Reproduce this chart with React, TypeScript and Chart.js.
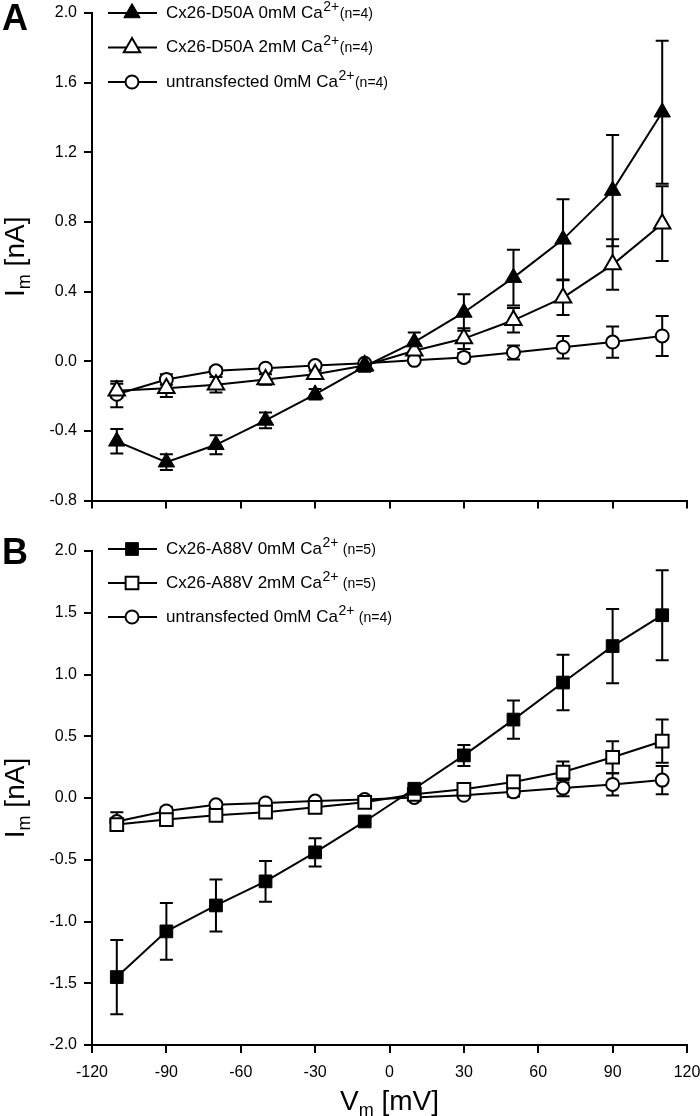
import React, { useEffect, useRef } from 'react';
import { Chart, registerables } from 'chart.js';

Chart.register(...registerables);

// ---------- data ----------
const voltages = [-110, -90, -70, -50, -30, -10, 10, 30, 50, 70, 90, 110];

// Panel A
const d50a0mM = [-0.46, -0.58, -0.48, -0.34, -0.19, -0.03, 0.11, 0.28, 0.48, 0.70, 0.98, 1.43];
const d50a0mMErr = [0.07, 0.045, 0.055, 0.045, 0.03, 0.03, 0.055, 0.105, 0.16, 0.23, 0.32, 0.41];
const d50a2mM = [-0.17, -0.155, -0.135, -0.105, -0.075, -0.025, 0.06, 0.13, 0.235, 0.365, 0.555, 0.79];
const d50a2mMErr = [0.04, 0.05, 0.045, 0.03, 0.02, 0.02, 0.03, 0.06, 0.07, 0.1, 0.145, 0.215];

// untransfected (both panels)
const untransfected = [-0.19, -0.105, -0.055, -0.04, -0.025, -0.012, 0.005, 0.022, 0.05, 0.08, 0.11, 0.145];
const untransfectedErr = [0.075, 0.03, 0.02, 0.015, 0.015, 0.015, 0.015, 0.025, 0.04, 0.065, 0.09, 0.115];

// Panel B
const a88v0mM = [-1.45, -1.08, -0.87, -0.675, -0.44, -0.19, 0.075, 0.345, 0.635, 0.935, 1.23, 1.48];
const a88v0mMErr = [0.3, 0.23, 0.21, 0.165, 0.115, 0.02, 0.03, 0.085, 0.155, 0.225, 0.3, 0.365];
const a88v2mM = [-0.215, -0.175, -0.14, -0.115, -0.075, -0.035, 0.03, 0.07, 0.13, 0.21, 0.33, 0.46];
const a88v2mMErr = [0.03, 0.03, 0.025, 0.02, 0.02, 0.02, 0.02, 0.03, 0.05, 0.085, 0.13, 0.175];

// ticks
const xTicks = [-120, -90, -60, -30, 0, 30, 60, 90, 120];
const yTicksA = [-0.8, -0.4, 0.0, 0.4, 0.8, 1.2, 1.6, 2.0];
const yTicksB = [-2.0, -1.5, -1.0, -0.5, 0.0, 0.5, 1.0, 1.5, 2.0];

const legendA = [
  { style: 'triangle', filled: true, main: 'Cx26-D50A 0mM Ca', sup: '2+', tail: '(n=4)' },
  { style: 'triangle', filled: false, main: 'Cx26-D50A 2mM Ca', sup: '2+', tail: '(n=4)' },
  { style: 'circle', filled: false, main: 'untransfected 0mM Ca', sup: '2+', tail: '(n=4)' },
];
const legendB = [
  { style: 'rect', filled: true, main: 'Cx26-A88V 0mM Ca', sup: '2+', tail: ' (n=5)' },
  { style: 'rect', filled: false, main: 'Cx26-A88V 2mM Ca', sup: '2+', tail: ' (n=5)' },
  { style: 'circle', filled: false, main: 'untransfected 0mM Ca', sup: '2+', tail: ' (n=4)' },
];

const FONT = '"Liberation Sans", Arial, Helvetica, sans-serif';

const MARKER = {
  triangle: { pointStyle: 'triangle', radius: 9.5 },
  circle: { pointStyle: 'circle', radius: 6.5 },
  rect: { pointStyle: 'rect', radius: 9 },
};

function drawMarker(ctx: CanvasRenderingContext2D, style: string, filled: boolean, x: number, y: number) {
  ctx.save();
  ctx.lineWidth = filled ? 1 : 2;
  ctx.strokeStyle = '#000';
  ctx.fillStyle = filled ? '#000' : '#fff';
  ctx.beginPath();
  if (style === 'triangle') {
    const r = MARKER.triangle.radius;
    for (let k = 0; k < 3; k++) {
      const a = (k * 2 * Math.PI) / 3;
      const px = x + Math.sin(a) * r;
      const py = y - Math.cos(a) * r;
      if (k === 0) ctx.moveTo(px, py);
      else ctx.lineTo(px, py);
    }
    ctx.closePath();
  } else if (style === 'circle') {
    ctx.arc(x, y, MARKER.circle.radius, 0, Math.PI * 2);
  } else {
    const s = MARKER.rect.radius * Math.SQRT1_2;
    ctx.rect(x - s, y - s, 2 * s, 2 * s);
  }
  ctx.fill();
  ctx.stroke();
  ctx.restore();
}

const errorBarPlugin = {
  id: 'errorBars',
  beforeDatasetsDraw(chart: any) {
    const ctx = chart.ctx;
    const yScale = chart.scales.y;
    chart.data.datasets.forEach((ds: any, di: number) => {
      const errs = ds.errorBars;
      if (!errs) return;
      const meta = chart.getDatasetMeta(di);
      ctx.save();
      ctx.strokeStyle = '#000';
      ctx.lineWidth = 2;
      meta.data.forEach((pt: any, i: number) => {
        const v = ds.data[i].y;
        const e = errs[i];
        const top = yScale.getPixelForValue(v + e);
        const bot = yScale.getPixelForValue(v - e);
        const x = pt.x;
        ctx.beginPath();
        ctx.moveTo(x, top);
        ctx.lineTo(x, bot);
        ctx.moveTo(x - 6.5, top);
        ctx.lineTo(x + 6.5, top);
        ctx.moveTo(x - 6.5, bot);
        ctx.lineTo(x + 6.5, bot);
        ctx.stroke();
      });
      ctx.restore();
    });
  },
};

function makeDecor(panel: any) {
  return {
    id: 'decor' + panel.letter,
    afterDraw(chart: any) {
      const ctx: CanvasRenderingContext2D = chart.ctx;
      const area = chart.chartArea;
      ctx.save();
      ctx.fillStyle = '#000';
      // panel letter
      ctx.font = `bold 36px ${FONT}`;
      ctx.textBaseline = 'middle';
      ctx.textAlign = 'left';
      ctx.fillText(panel.letter, 2, panel.letterY);

      // y title  I_m [nA]
      const big = `28px ${FONT}`;
      const sub = `18px ${FONT}`;
      ctx.font = big;
      const wI = ctx.measureText('I').width;
      const wRest = ctx.measureText(' [nA]').width;
      ctx.font = sub;
      const wm = ctx.measureText('m').width;
      const total = wI + wm + wRest;
      const cy = (area.top + area.bottom) / 2;
      ctx.save();
      ctx.translate(24, cy);
      ctx.rotate(-Math.PI / 2);
      ctx.textBaseline = 'alphabetic';
      let xx = -total / 2;
      ctx.font = big;
      ctx.fillText('I', xx, 0);
      xx += wI;
      ctx.font = sub;
      ctx.fillText('m', xx, 6);
      xx += wm;
      ctx.font = big;
      ctx.fillText(' [nA]', xx, 0);
      ctx.restore();

      // legend
      panel.legend.forEach((it: any, i: number) => {
        const y = panel.legendY[i];
        ctx.save();
        ctx.strokeStyle = '#000';
        ctx.lineWidth = 2;
        ctx.beginPath();
        ctx.moveTo(108, y);
        ctx.lineTo(157, y);
        ctx.stroke();
        ctx.restore();
        drawMarker(ctx, it.style, it.filled, 132, y);
        ctx.textBaseline = 'middle';
        ctx.textAlign = 'left';
        let tx = 166;
        ctx.font = `17px ${FONT}`;
        ctx.fillText(it.main, tx, y);
        tx += ctx.measureText(it.main).width;
        ctx.font = `14px ${FONT}`;
        ctx.fillText(it.sup, tx + 0.5, y - 6);
        tx += ctx.measureText(it.sup).width + 1;
        ctx.font = `14px ${FONT}`;
        ctx.fillText(it.tail, tx, y + 1);
      });

      // x title
      if (panel.showXTitle) {
        ctx.font = big;
        const wV = ctx.measureText('V').width;
        const wR = ctx.measureText(' [mV]').width;
        ctx.font = sub;
        const wm2 = ctx.measureText('m').width;
        const tot = wV + wm2 + wR;
        const cx = (area.left + area.right) / 2;
        const by = panel.xTitleY;
        ctx.textBaseline = 'alphabetic';
        let x0 = cx - tot / 2;
        ctx.font = big;
        ctx.fillText('V', x0, by);
        x0 += wV;
        ctx.font = sub;
        ctx.fillText('m', x0, by + 6);
        x0 += wm2;
        ctx.font = big;
        ctx.fillText(' [mV]', x0, by);
      }
      ctx.restore();
    },
  };
}

function series(values: number[], errs: number[], style: string, filled: boolean) {
  const m = (MARKER as any)[style];
  return {
    data: voltages.map((v, i) => ({ x: v, y: values[i] })),
    errorBars: errs,
    borderColor: '#000',
    borderWidth: 2,
    tension: 0,
    fill: false,
    pointStyle: m.pointStyle,
    pointRadius: m.radius,
    pointHoverRadius: m.radius,
    pointBackgroundColor: filled ? '#000' : '#fff',
    pointBorderColor: '#000',
    pointBorderWidth: filled ? 1 : 2,
  };
}

function buildConfig(panel: any) {
  return {
    type: 'line',
    data: { datasets: panel.datasets },
    options: {
      animation: false,
      responsive: false,
      maintainAspectRatio: false,
      devicePixelRatio: 1,
      events: [],
      layout: { padding: { left: 0, right: 13, top: panel.top, bottom: 0 } },
      plugins: { legend: { display: false }, tooltip: { enabled: false } },
      scales: {
        x: {
          type: 'linear',
          min: -120,
          max: 120,
          afterBuildTicks: (ax: any) => {
            ax.ticks = xTicks.map((v) => ({ value: v }));
          },
          ticks: {
            display: panel.showXLabels,
            autoSkip: false,
            maxRotation: 0,
            color: '#000',
            padding: 10,
            font: { family: FONT, size: 16 },
            callback: (v: any) => String(v),
          },
          grid: { drawOnChartArea: false, drawTicks: true, tickLength: 8, color: '#000', lineWidth: 2 },
          border: { display: true, color: '#000', width: 2 },
          afterFit: (ax: any) => {
            ax.height = panel.xAxisHeight;
            ax.paddingLeft = 0;
            ax.paddingRight = 0;
          },
        },
        y: {
          type: 'linear',
          min: panel.yTicks[0],
          max: panel.yTicks[panel.yTicks.length - 1],
          afterBuildTicks: (ax: any) => {
            ax.ticks = panel.yTicks.map((v: number) => ({ value: v }));
          },
          ticks: {
            color: '#000',
            padding: 7,
            font: { family: FONT, size: 16 },
            callback: (v: any) => Number(v).toFixed(1),
          },
          grid: { drawOnChartArea: false, drawTicks: true, tickLength: 8, color: '#000', lineWidth: 2 },
          border: { display: true, color: '#000', width: 2 },
          afterFit: (ax: any) => {
            ax.width = 92;
            ax.paddingTop = 0;
            ax.paddingBottom = 0;
          },
        },
      },
    },
    plugins: [errorBarPlugin, makeDecor(panel)],
  };
}

const panelA = {
  letter: 'A',
  letterY: 20,
  top: 13,
  xAxisHeight: 19.5,
  showXLabels: false,
  showXTitle: false,
  yTicks: yTicksA,
  legend: legendA,
  legendY: [13, 47.5, 82],
  datasets: [
    series(d50a0mM, d50a0mMErr, 'triangle', true),
    series(d50a2mM, d50a2mMErr, 'triangle', false),
    series(untransfected, untransfectedErr, 'circle', false),
  ],
};

const panelB = {
  letter: 'B',
  letterY: 34,
  top: 31,
  xAxisHeight: 71,
  showXLabels: true,
  showXTitle: true,
  xTitleY: 590,
  yTicks: yTicksB,
  legend: legendB,
  legendY: [29, 63, 97],
  datasets: [
    series(a88v0mM, a88v0mMErr, 'rect', true),
    series(a88v2mM, a88v2mMErr, 'rect', false),
    series(untransfected, untransfectedErr, 'circle', false),
  ],
};

export default function App() {
  const refA = useRef<HTMLCanvasElement>(null);
  const refB = useRef<HTMLCanvasElement>(null);
  useEffect(() => {
    const a = new Chart(refA.current as HTMLCanvasElement, buildConfig(panelA) as any);
    const b = new Chart(refB.current as HTMLCanvasElement, buildConfig(panelB) as any);
    return () => {
      a.destroy();
      b.destroy();
    };
  }, []);
  return (
    <div style={{ position: 'absolute', left: 0, top: 0, width: 700, height: 1116, background: '#fff' }}>
      <canvas ref={refA} width={700} height={520} style={{ display: 'block', width: 700, height: 520 }} />
      <canvas ref={refB} width={700} height={596} style={{ display: 'block', width: 700, height: 596 }} />
    </div>
  );
}
